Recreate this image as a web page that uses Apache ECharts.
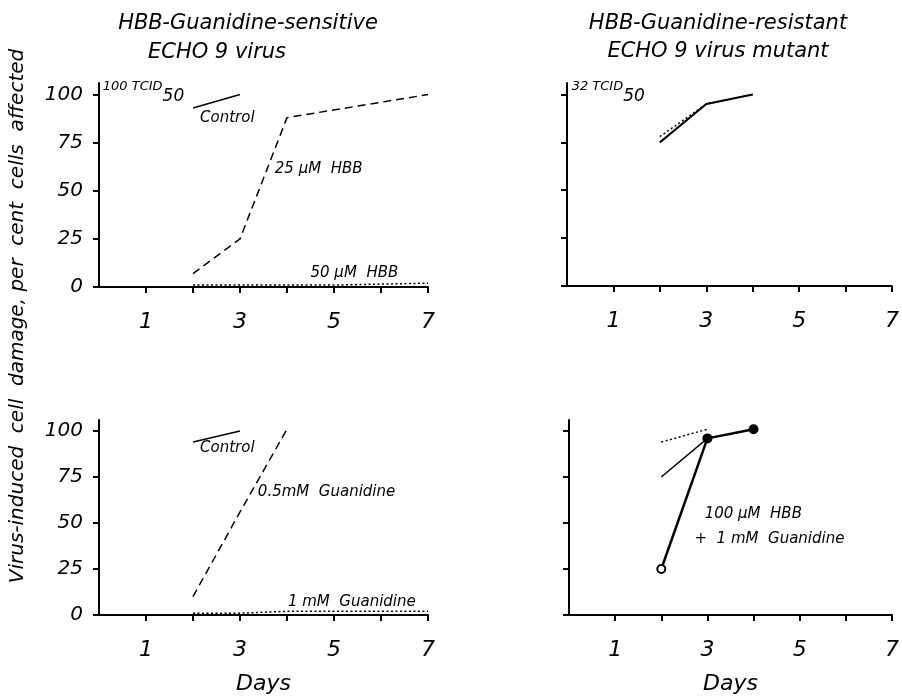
<!DOCTYPE html>
<html>
<head>
<meta charset="utf-8">
<script src="https://cdn.jsdelivr.net/npm/echarts@6/dist/echarts.min.js"></script>
<style>
  html, body { margin: 0; padding: 0; background: #fff; }
  #chart { width: 902px; height: 696px; }
</style>
</head>
<body>
<div id="chart"></div>
<script>
'use strict';
// data: [day, per cent cells affected]
var yTicks = [0, 25, 50, 75, 100];
var xTicks = [1, 2, 3, 4, 5, 6, 7];
var xLabels = [1, 3, 5, 7];

// sensitive virus, HBB
var tlControl = [[2, 93], [3, 100]];
var tlHbb25 = [[2, 7], [3, 25], [4, 88], [7, 100]];
var tlHbb50 = [[2, 1], [3, 1], [4, 1], [5, 1], [7, 2]];
// resistant mutant, HBB
var trControl = [[2, 75], [3, 95], [4, 100]];
var trHbb = [[2, 78], [3, 95], [4, 100]];
// sensitive virus, guanidine
var blControl = [[2, 94], [3, 100]];
var blGua05 = [[2, 10], [3, 56], [4, 101]];
var blGua1 = [[2, 1], [3, 1], [4, 2], [5, 2], [7, 2]];
// resistant mutant, guanidine
var brGua = [[2, 94], [3, 101]];
var brControl = [[2, 75], [3, 96]];
var brHbbGua = [[2, 25], [3, 96], [4, 101]];

var titles = ['HBB-Guanidine-sensitive', 'ECHO 9 virus', 'HBB-Guanidine-resistant', 'ECHO 9 virus mutant'];

// annotations: [day, value, text]
var tlNotes = [[0.08, 101, '{t|100 TCID}{s|50}'], [2.15, 88, 'Control'], [3.74, 61, '25 \u03bcM  HBB'], [4.5, 7, '50 \u03bcM  HBB']];
var trNotes = [[0.1, 101, '{t|32 TCID}{s|50}']];
var blNotes = [[2.15, 90.5, 'Control'], [3.38, 67, '0.5mM  Guanidine'], [4.02, 7, '1 mM  Guanidine']];
var brNotes = [[2.94, 55, '100 \u03bcM  HBB'], [2.72, 41, '+  1 mM  Guanidine']];

var FONT = 'DejaVu Sans';
var INK = '#000';

var grids = [
  { left: 99, right: 474, top: 83, bottom: 409 },
  { left: 567, right: 6, top: 83, bottom: 410 },
  { left: 99, right: 474, top: 420, bottom: 73 },
  { left: 569, right: 4, top: 420, bottom: 75 }
];

function xAxisFor(i, showName) {
  return {
    type: 'value', gridIndex: i, min: 0, max: 7, interval: 1,
    name: showName ? 'Days' : '', nameLocation: 'middle', nameGap: 58,
    nameTextStyle: { fontFamily: FONT, fontStyle: 'italic', fontSize: 22, color: INK },
    axisLine: { lineStyle: { color: INK, width: 2 } },
    axisTick: { show: true, length: 6, customValues: xTicks, lineStyle: { color: INK, width: 2 } },
    axisLabel: { customValues: xLabels, margin: 24, fontFamily: FONT, fontStyle: 'italic', fontSize: 22, color: INK },
    splitLine: { show: false }
  };
}

function yAxisFor(i, showLabels) {
  return {
    type: 'value', gridIndex: i, min: 0, max: 106,
    axisLine: { show: true, lineStyle: { color: INK, width: 2 } },
    axisTick: { show: true, length: 6, customValues: yTicks, lineStyle: { color: INK, width: 2 } },
    axisLabel: { show: showLabels, customValues: yTicks, margin: 16, fontFamily: FONT, fontStyle: 'italic', fontSize: 20, color: INK },
    splitLine: { show: false }
  };
}

function line(i, data, dash, width) {
  return {
    type: 'line', xAxisIndex: i, yAxisIndex: i, data: data,
    symbol: 'none', silent: true, animation: false,
    lineStyle: { color: INK, width: width || 1.5, type: dash || 'solid' }
  };
}

function notes(i, list) {
  return {
    type: 'scatter', xAxisIndex: i, yAxisIndex: i, symbolSize: 0, silent: true, animation: false,
    itemStyle: { opacity: 1 },
    data: list.map(function (n) { return { value: [n[0], n[1]], name: n[2] }; }),
    label: {
      show: true, position: 'right', distance: 0,
      formatter: function (p) { return p.name; },
      fontFamily: FONT, fontStyle: 'italic', fontSize: 15, color: INK,
      rich: {
        t: { fontFamily: FONT, fontStyle: 'italic', fontSize: 13, color: INK, verticalAlign: 'top' },
        s: { fontFamily: FONT, fontStyle: 'italic', fontSize: 17, color: INK, padding: [8, 0, 0, 0] }
      }
    }
  };
}

var DASH = [8, 5];
var DOT = [2, 2.5];

var brMarked = line(3, brHbbGua.map(function (p, k) {
  return k === 0
    ? { value: p, symbol: 'circle', symbolSize: 8, itemStyle: { color: '#fff', borderColor: INK, borderWidth: 2 } }
    : { value: p, symbol: 'circle', symbolSize: 10, itemStyle: { color: INK } };
}), 'solid', 2.5);
brMarked.symbol = 'circle';
brMarked.showSymbol = true;

var option = {
  backgroundColor: '#fff',
  animation: false,
  grid: grids,
  xAxis: [xAxisFor(0, false), xAxisFor(1, false), xAxisFor(2, true), xAxisFor(3, true)],
  yAxis: [yAxisFor(0, true), yAxisFor(1, false), yAxisFor(2, true), yAxisFor(3, false)],
  graphic: [
    { type: 'text', x: 248, y: 24, style: { text: titles[0], fontFamily: FONT, fontStyle: 'italic', fontSize: 21, fill: INK, align: 'center', verticalAlign: 'middle' } },
    { type: 'text', x: 217, y: 53, style: { text: titles[1], fontFamily: FONT, fontStyle: 'italic', fontSize: 21, fill: INK, align: 'center', verticalAlign: 'middle' } },
    { type: 'text', x: 718, y: 24, style: { text: titles[2], fontFamily: FONT, fontStyle: 'italic', fontSize: 21, fill: INK, align: 'center', verticalAlign: 'middle' } },
    { type: 'text', x: 718, y: 52, style: { text: titles[3], fontFamily: FONT, fontStyle: 'italic', fontSize: 21, fill: INK, align: 'center', verticalAlign: 'middle' } },
    { type: 'text', x: 18, y: 316, rotation: Math.PI / 2, style: { text: 'Virus-induced  cell  damage, per  cent  cells  affected', fontFamily: FONT, fontStyle: 'italic', fontSize: 20, fill: INK, align: 'center', verticalAlign: 'middle' } }
  ],
  series: [
    line(0, tlControl),
    line(0, tlHbb25, DASH),
    line(0, tlHbb50, DOT),
    notes(0, tlNotes),
    line(1, trControl, 'solid', 2),
    line(1, trHbb, DOT),
    notes(1, trNotes),
    line(2, blControl),
    line(2, blGua05, DASH),
    line(2, blGua1, DOT),
    notes(2, blNotes),
    line(3, brGua, DOT),
    line(3, brControl),
    brMarked,
    notes(3, brNotes)
  ]
};

var myChart = echarts.init(document.getElementById('chart'));
myChart.setOption(option);
</script>
</body>
</html>
